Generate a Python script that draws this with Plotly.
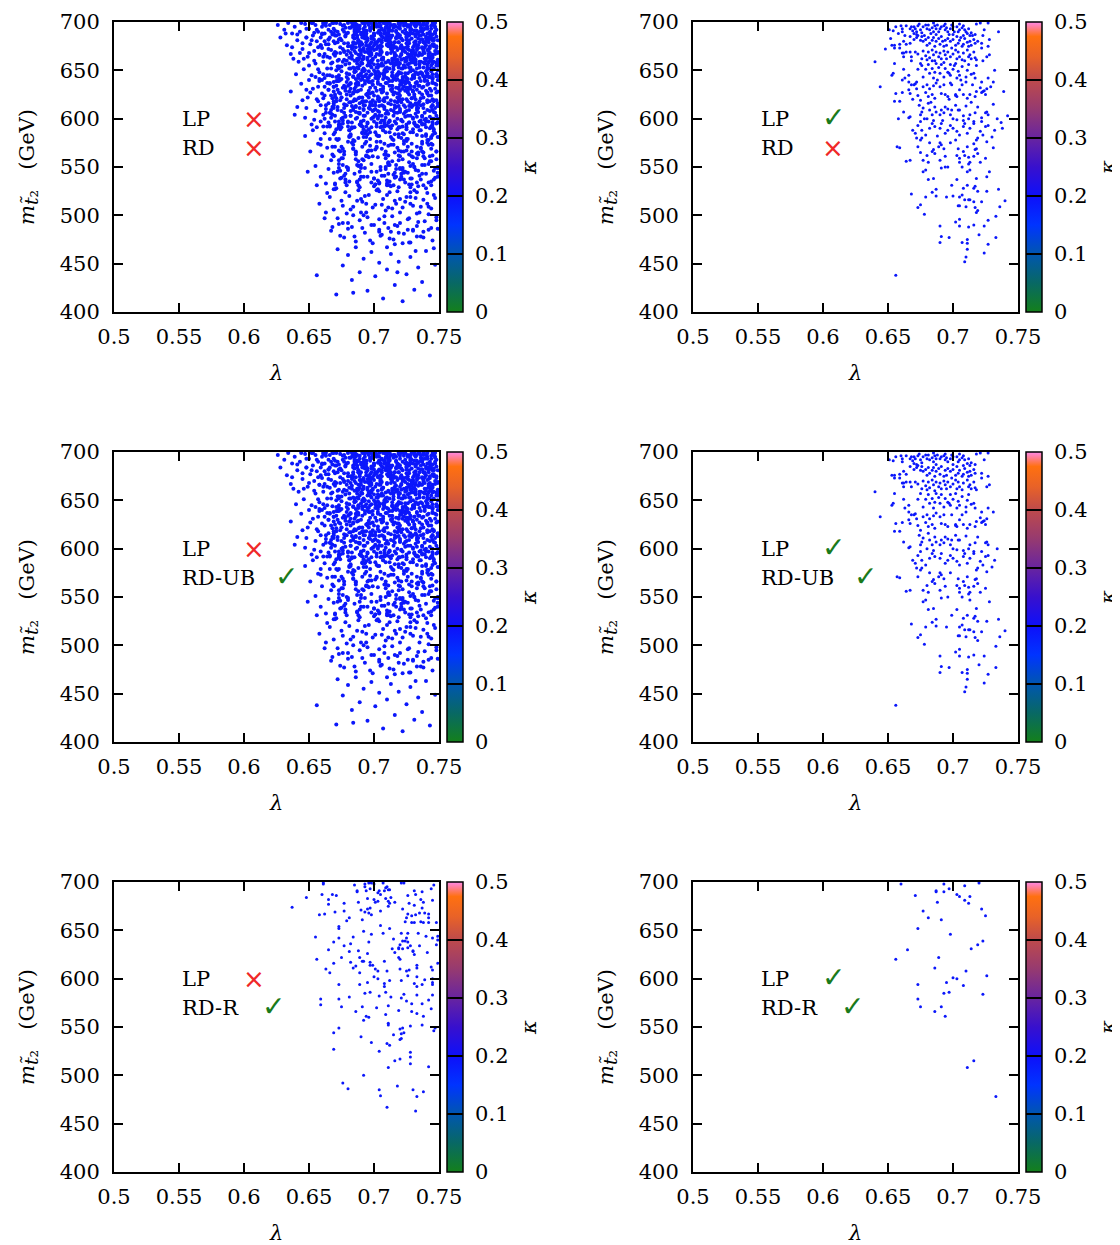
import plotly.graph_objects as go

W, H = 1112, 1237          # page body adds an 8 px margin around the figure
OFF = 8

# ---------------- axes / labels ----------------
x_range = [0.5, 0.75]
y_range = [400, 700]
x_ticks = [0.5, 0.55, 0.6, 0.65, 0.7, 0.75]
x_ticklabels = ["0.5", "0.55", "0.6", "0.65", "0.7", "0.75"]
y_ticks = [400, 450, 500, 550, 600, 650, 700]
kappa_ticks = [0, 0.1, 0.2, 0.3, 0.4, 0.5]
kappa_ticklabels = ["0", "0.1", "0.2", "0.3", "0.4", "0.5"]
kappa_typical = 0.19

panel_lp_ok = [False, True, False, True, False, True]
panel_rd_name = ["RD", "RD", "RD-UB", "RD-UB", "RD-R", "RD-R"]
panel_rd_ok = [False, False, True, True, True, True]

# ---------------- data (lambda, m_stop2) ----------------
# bottom-right panel (LP ok, RD-R ok)
pts6 = [(0.660,698),(0.693,698),(0.709,696),(0.720,699),(0.687,691),(0.687,690),(0.697,693),(0.693,690),
        (0.671,686),(0.703,687),(0.705,685),(0.713,685),(0.709,681),(0.712,678),(0.688,679),(0.677,670),
        (0.722,672),(0.725,665),(0.681,663),(0.691,661),(0.673,652),(0.698,646),(0.723,639),(0.719,635),
        (0.714,631),(0.665,630),(0.656,620),(0.689,622),(0.686,611),(0.710,608),(0.726,603),(0.700,601),
        (0.703,600),(0.695,596),(0.673,594),(0.708,593),(0.693,585),(0.697,586),(0.723,584),(0.673,579),
        (0.675,571),(0.691,571),(0.686,566),(0.694,561),(0.716,515),(0.711,508),(0.733,478)]

# bottom-left panel (LP fail, RD-R ok)
pts5 = [(0.661,698),(0.661,699),(0.685,697),(0.693,698),(0.696,699),(0.698,699),(0.700,698),(0.707,699),
        (0.710,695),(0.711,692),(0.712,692),(0.721,699),(0.723,699),(0.746,697),(0.744,693),
        (0.687,691),(0.687,690),(0.693,695),(0.694,691),(0.697,693),(0.703,689),(0.704,691),(0.705,687),
        (0.708,691),(0.709,694),(0.713,684),(0.648,684),(0.660,687),(0.668,687),(0.671,686),(0.726,686),
        (0.731,691),(0.732,687),(0.737,690),(0.665,682),
        (0.665,677),(0.677,678),(0.688,679),(0.695,683),(0.700,682),(0.701,679),(0.703,680),(0.709,683),
        (0.711,680),(0.712,678),(0.716,679),(0.727,678),(0.736,682),(0.738,679),(0.745,681),(0.637,674),
        (0.695,672),(0.697,673),(0.711,675),(0.731,676),(0.722,672),(0.737,673),
        (0.670,669),(0.677,670),(0.690,671),(0.693,669),(0.696,668),(0.698,666),(0.705,670),(0.658,666),
        (0.662,667),(0.681,663),(0.679,660),(0.691,661),(0.726,667),(0.729,665),(0.732,666),(0.735,668),
        (0.739,668),(0.742,663),(0.742,667),(0.724,659),(0.729,658),(0.731,658),(0.736,659),(0.738,658),
        (0.742,658),(0.748,658),(0.725,663),
        (0.673,654),(0.673,652),(0.705,655),(0.712,652),(0.692,649),(0.721,647),(0.726,647),(0.734,647),
        (0.698,646),(0.707,647),(0.740,644),(0.745,642),(0.749,644),(0.749,640),(0.655,643),(0.673,642),
        (0.684,643),(0.696,638),(0.715,641),(0.720,635),(0.725,642),(0.724,639),(0.722,639),(0.726,638),
        (0.728,634),(0.735,634),(0.748,635),(0.669,638),
        (0.677,634),(0.682,636),(0.665,630),(0.681,628),(0.688,629),(0.695,626),(0.719,632),(0.714,631),
        (0.719,631),(0.716,627),(0.722,631),(0.726,632),(0.730,629),(0.730,628),(0.731,625),(0.741,627),
        (0.675,622),(0.689,622),(0.691,618),(0.692,618),(0.697,617),(0.708,618),(0.719,622),(0.720,620),
        (0.656,620),(0.669,616),(0.682,617),(0.686,613),
        (0.663,610),(0.666,606),(0.689,606),(0.697,614),(0.699,614),(0.701,610),(0.703,608),(0.710,608),
        (0.720,610),(0.725,608),(0.727,609),(0.733,614),(0.733,611),(0.726,603),(0.733,602),(0.744,612),
        (0.745,609),(0.749,616),(0.684,611),(0.700,602),(0.703,600),(0.712,598),(0.721,598),(0.739,599),
        (0.745,600),
        (0.673,594),(0.689,594),(0.695,596),(0.708,595),(0.708,592),(0.731,595),(0.733,592),(0.737,594),
        (0.745,596),(0.745,594),(0.693,585),(0.697,586),(0.704,582),(0.709,586),(0.723,584),(0.733,583),
        (0.745,583),(0.681,581),
        (0.659,579),(0.659,573),(0.673,579),(0.675,571),(0.713,581),(0.721,580),(0.725,577),(0.729,574),
        (0.737,574),(0.742,578),(0.691,571),(0.702,570),(0.711,572),(0.686,566),(0.709,563),(0.719,567),
        (0.729,566),(0.733,564),(0.744,569),(0.694,561),(0.696,560),(0.692,557),(0.711,554),(0.711,552),
        (0.728,551),(0.738,561),(0.737,552),
        (0.720,548),(0.722,549),(0.673,549),(0.669,544),(0.690,540),(0.715,542),(0.721,543),(0.723,544),
        (0.720,537),(0.721,538),(0.746,546),(0.747,549),(0.698,534),(0.710,533),(0.712,531),(0.669,527),
        (0.704,525),(0.728,524),(0.728,519),(0.716,515),(0.720,517),(0.728,512),(0.711,508),(0.742,509),
        (0.692,500),(0.676,492),(0.680,486),(0.704,485),(0.718,489),(0.730,485),(0.738,483),(0.705,479),
        (0.733,478),(0.710,467),(0.732,463)]

# middle-right panel (LP ok, RD-UB ok)
pts4 = [(0.651,692),(0.654,691),(0.656,695),(0.660,696),(0.661,693),(0.661,690),(0.664,696),(0.667,693),
        (0.668,695),(0.670,695),(0.669,691),(0.671,693),(0.673,696),(0.674,698),(0.675,692),(0.676,689),
        (0.677,695),(0.679,697),(0.680,693),(0.681,697),(0.682,692),(0.684,694),(0.685,690),(0.686,696),
        (0.687,693),(0.688,697),(0.690,693),(0.691,695),(0.693,696),(0.694,692),(0.695,694),(0.696,690),
        (0.698,693),(0.699,697),(0.700,695),(0.703,695),(0.704,690),(0.705,692),(0.707,694),(0.708,696),
        (0.709,692),(0.711,688),(0.712,693),(0.714,689),(0.718,698),(0.721,699),(0.724,692),(0.727,699),
        (0.685,699),(0.694,698),(0.705,698),(0.670,688),(0.672,687),(0.687,687),(0.700,687),(0.708,686),
        (0.713,686),(0.717,687),
        (0.653,676),(0.655,676),(0.655,673),(0.659,677),(0.662,680),(0.664,677),(0.667,685),(0.670,682),
        (0.672,684),(0.673,686),(0.675,681),(0.676,685),(0.677,680),(0.679,682),(0.680,676),(0.681,684),
        (0.682,678),(0.684,681),(0.685,684),(0.686,675),(0.687,680),(0.689,683),(0.690,677),(0.691,685),
        (0.693,675),(0.694,681),(0.695,676),(0.696,683),(0.698,680),(0.699,673),(0.700,682),(0.702,676),
        (0.703,685),(0.704,678),(0.705,681),(0.707,675),(0.708,677),(0.709,683),(0.711,679),(0.712,675),
        (0.713,680),(0.714,676),(0.716,682),(0.717,678),(0.722,678),(0.727,675),(0.722,673),(0.659,673),
        (0.661,668),(0.662,668),(0.664,669),(0.662,664),(0.667,669),(0.668,664),(0.671,669),(0.673,667),
        (0.676,662),(0.677,670),(0.679,665),(0.680,661),(0.681,669),(0.682,663),(0.684,671),(0.685,666),
        (0.686,660),(0.687,669),(0.689,664),(0.690,668),(0.691,662),(0.693,670),(0.694,666),(0.695,662),
        (0.696,669),(0.698,664),(0.700,667),(0.702,671),(0.703,662),(0.704,669),(0.705,664),(0.707,661),
        (0.708,668),(0.711,671),(0.712,664),(0.713,666),(0.714,662),(0.716,669),(0.717,663),(0.718,661),
        (0.726,664),(0.728,666),(0.640,659),(0.655,657),
        (0.654,647),(0.653,645),(0.662,651),(0.663,642),(0.666,645),(0.673,651),(0.675,657),(0.677,643),
        (0.679,651),(0.681,656),(0.682,647),(0.684,652),(0.685,642),(0.686,648),(0.687,657),(0.689,653),
        (0.690,647),(0.691,656),(0.693,643),(0.694,652),(0.696,648),(0.697,647),(0.698,645),(0.698,656),
        (0.700,651),(0.702,657),(0.703,642),(0.704,649),(0.705,645),(0.707,654),(0.710,643),(0.711,650),
        (0.712,656),(0.714,646),(0.716,647),(0.717,642),(0.722,638),(0.727,642),(0.731,638),(0.644,633),
        (0.666,638),(0.668,635),
        (0.656,626),(0.655,618),(0.659,618),(0.661,627),(0.666,630),(0.667,626),(0.670,635),(0.671,636),
        (0.672,631),(0.673,624),(0.675,619),(0.677,633),(0.679,627),(0.680,635),(0.681,623),(0.682,631),
        (0.684,625),(0.685,634),(0.686,621),(0.687,637),(0.690,633),(0.691,626),(0.693,635),(0.694,625),
        (0.696,623),(0.699,635),(0.702,625),(0.702,624),(0.703,623),(0.705,630),(0.707,635),(0.708,625),
        (0.710,638),(0.711,621),(0.713,625),(0.717,623),(0.718,628),(0.721,632),(0.722,627),(0.723,628),
        (0.725,625),(0.726,631),(0.724,629),
        (0.666,601),(0.667,602),(0.674,614),(0.675,604),(0.676,607),(0.677,611),(0.680,600),(0.681,616),
        (0.682,609),(0.684,604),(0.685,598),(0.686,612),(0.687,607),(0.690,604),(0.691,609),(0.693,606),
        (0.694,612),(0.696,610),(0.698,604),(0.699,609),(0.700,600),(0.702,614),(0.703,599),(0.704,609),
        (0.705,609),(0.708,598),(0.710,613),(0.712,600),(0.713,604),(0.716,597),(0.717,606),(0.719,612),
        (0.722,597),(0.725,606),(0.727,604),(0.726,607),(0.734,600),(0.662,607),
        (0.669,588),(0.671,585),(0.673,593),(0.675,597),(0.676,588),(0.679,583),(0.682,590),(0.684,595),
        (0.686,592),(0.690,590),(0.691,595),(0.694,585),(0.696,588),(0.698,593),(0.700,590),(0.703,587),
        (0.705,583),(0.708,592),(0.709,595),(0.711,585),(0.713,590),(0.716,595),(0.718,578),(0.719,580),
        (0.721,587),(0.723,583),(0.725,592),(0.727,593),(0.730,581),(0.732,588),(0.726,576),(0.672,580),
        (0.676,580),
        (0.657,571),(0.659,570),(0.664,556),(0.667,557),(0.673,571),(0.675,578),(0.677,557),(0.680,562),
        (0.682,575),(0.684,566),(0.685,568),(0.686,564),(0.689,571),(0.690,575),(0.691,573),(0.693,569),
        (0.694,561),(0.698,575),(0.703,562),(0.704,569),(0.705,559),(0.708,566),(0.709,562),(0.711,571),
        (0.712,560),(0.713,555),(0.716,561),(0.717,568),(0.718,569),(0.719,564),(0.721,555),(0.725,559),
        (0.677,545),(0.679,547),(0.681,555),(0.681,537),(0.685,538),(0.687,527),(0.690,557),(0.691,549),
        (0.696,550),(0.699,531),(0.703,537),(0.705,555),(0.707,550),(0.708,528),(0.711,531),(0.712,553),
        (0.713,547),(0.716,528),(0.717,530),(0.718,538),(0.719,525),(0.726,525),(0.728,545),(0.735,527),
        (0.668,522),(0.675,511),(0.673,508),(0.678,501),(0.679,519),(0.684,524),(0.687,520),(0.695,519),
        (0.704,510),(0.705,519),(0.705,510),(0.707,521),(0.709,516),(0.710,509),(0.712,516),(0.713,516),
        (0.716,514),(0.717,508),(0.719,505),(0.722,514),(0.736,509),(0.740,515),(0.733,499),
        (0.690,489),(0.691,478),(0.690,472),(0.697,477),(0.702,493),(0.705,496),(0.705,489),(0.712,488),
        (0.711,475),(0.711,471),(0.707,472),(0.711,465),(0.710,457),(0.709,452),(0.716,490),(0.720,480),
        (0.724,489),(0.724,461),(0.727,470),(0.733,477),(0.656,438)]

# extra points of the top-right panel (LP ok, RD fail) beyond pts4
pts2x = [(0.652,683),(0.648,672),(0.658,688),(0.663,686),(0.667,678),(0.672,690),(0.678,686),(0.683,688),
         (0.689,690),(0.692,680),(0.697,687),(0.701,690),(0.706,684),(0.710,690),(0.715,686),(0.719,680),
         (0.723,686),(0.728,682),(0.735,690),(0.668,660),(0.676,655),(0.684,660),(0.693,658),(0.701,655),
         (0.709,660),(0.718,655),(0.723,660),(0.732,650),(0.661,640),(0.672,638),(0.688,640),(0.698,637),
         (0.706,640),(0.715,635),(0.729,633),(0.739,628),(0.669,620),(0.683,617),(0.697,620),(0.714,617),
         (0.731,615),(0.678,600),(0.692,598),(0.708,603),(0.722,601),(0.737,596),(0.688,582),(0.702,578),
         (0.716,574),(0.731,570),(0.694,550),(0.711,545),(0.726,540),(0.700,520),(0.718,503),(0.727,495),
         (0.738,590),(0.742,603),(0.658,600),(0.675,565)]

# dense panels (LP fail): points beyond pts5, by region
fringe_top = [(0.626,697),(0.631,692),(0.628,684),(0.634,699),(0.637,688),(0.633,676),(0.639,695),(0.641,681),
              (0.636,667),(0.643,690),(0.645,672),(0.642,659),(0.647,698),(0.648,684),(0.646,651),(0.650,693),
              (0.651,677),(0.649,664),(0.653,686),(0.652,645),(0.654,670),(0.655,697),(0.656,680),(0.655,657),
              (0.657,690),(0.658,666),(0.658,648),(0.659,684),(0.660,695),(0.660,673),(0.661,659),(0.662,688),
              (0.662,642),(0.663,677),(0.663,699),(0.664,664),(0.664,652),(0.665,692),(0.665,682),(0.640,646),
              (0.638,662),(0.644,699),(0.652,699),(0.657,674),(0.661,646),
              (0.641,687),(0.645,678),(0.648,693),(0.650,668),(0.652,681),(0.654,660),(0.656,692),(0.657,651),
              (0.659,676),(0.660,688),(0.661,664),(0.663,696),(0.664,645),(0.665,672),(0.666,684),(0.667,657),
              (0.668,699),(0.669,667),(0.670,678),(0.671,643),(0.672,690),(0.673,661),(0.674,683),(0.675,649),
              (0.676,696),(0.677,669),(0.678,656),(0.679,688),(0.680,675),(0.681,646),(0.682,694),(0.683,665),
              (0.684,653),(0.662,680),(0.658,641),(0.653,699),(0.667,690),(0.674,640),(0.680,699),(0.646,662)]
inner_top = [(0.666,697),(0.668,658),(0.667,671),(0.670,686),(0.668,644),(0.669,693),(0.672,679),(0.670,665),
             (0.671,650),(0.671,699),(0.673,687),(0.672,660),(0.674,674),(0.673,645),(0.676,692),(0.674,668),
             (0.675,681),(0.675,654),(0.677,697),(0.676,672),(0.678,686),(0.677,661),(0.679,647),(0.678,694),
             (0.680,678),(0.679,666),(0.681,652),(0.680,689),(0.683,699),(0.680,641),(0.682,675),(0.681,657),
             (0.684,684),(0.682,668),(0.683,695),(0.685,649),(0.684,679),(0.683,662),(0.685,690),(0.684,644),
             (0.666,663),(0.669,680),(0.670,691),(0.672,654),(0.674,698),(0.676,659),(0.678,685),(0.679,643),
             (0.681,694),(0.683,672),(0.667,652),(0.669,699),(0.671,668),(0.673,682),(0.675,641),(0.677,690),
             (0.680,670),(0.682,652),(0.684,698),(0.685,687)]
core_lam = [0.686,0.689,0.685,0.690,0.687,0.691,0.688,0.686,0.690,0.685,0.689,0.687,0.691,0.688,0.685,0.690,0.686,0.689,0.687,0.691,
            0.693,0.696,0.692,0.697,0.694,0.698,0.695,0.692,0.697,0.693,0.696,0.694,0.698,0.692,0.695,0.697,0.693,0.696,0.694,0.692,
            0.699,0.702,0.700,0.704,0.701,0.698,0.703,0.700,0.702,0.699,0.704,0.701,0.703,0.698,0.702,0.700,0.704,0.699,0.701,0.703,
            0.705,0.708,0.706,0.710,0.707,0.704,0.709,0.706,0.711,0.705,0.708,0.710,0.707,0.704,0.709,0.706,0.711,0.705,0.708,0.707,
            0.712,0.715,0.713,0.717,0.714,0.711,0.716,0.713,0.715,0.712,0.717,0.714,0.716,0.711,0.713,0.715,0.712,0.716,0.714,0.717,
            0.718,0.721,0.719,0.723,0.720,0.717,0.722,0.719,0.724,0.718,0.721,0.723,0.720,0.717,0.722,0.719,0.724,0.718,0.721,0.720,
            0.725,0.728,0.726,0.730,0.727,0.724,0.729,0.726,0.730,0.725,0.728,0.727,0.729,0.724,0.726,0.730,0.725,0.728,0.727,0.729,
            0.731,0.734,0.732,0.736,0.733,0.730,0.735,0.732,0.737,0.731,0.734,0.736,0.733,0.730,0.735,0.732,0.737,0.731,0.734,0.733,
            0.738,0.741,0.739,0.743,0.740,0.737,0.742,0.739,0.743,0.738,0.741,0.740,0.742,0.737,0.739,0.743,0.738,0.741,0.740,0.742,
            0.744,0.747,0.745,0.749,0.746,0.743,0.748,0.745,0.749,0.744,0.747,0.746,0.748,0.743,0.745,0.749,0.744,0.747,0.746,0.748]
core_m = [698,671,652,689,660,644,681,695,666,648,677,686,657,642,692,669,674,663,684,650,
          684,697,662,645,691,673,655,687,668,699,649,679,660,693,642,670,688,657,676,652,
          694,667,650,681,699,658,675,688,644,662,691,678,653,685,697,671,646,683,664,656,
          672,688,655,698,641,666,681,693,659,676,647,686,663,695,652,679,690,668,643,684,
          691,657,677,645,686,699,664,672,651,682,695,660,641,688,668,654,679,697,648,674,
          645,683,698,662,673,690,652,679,688,641,667,696,657,684,670,648,692,661,676,686,
          678,694,656,667,686,643,699,672,650,689,661,681,692,653,675,645,684,697,664,670,
          663,689,680,648,697,671,656,685,693,642,676,666,652,688,699,659,682,645,673,691,
          697,651,674,685,662,690,644,679,668,699,656,683,672,647,693,660,687,653,676,665,
          686,670,698,655,677,643,692,664,681,649,695,659,673,688,646,668,683,699,652,675]
core2_lam = [0.684,0.686,0.688,0.685,0.687,0.688,0.684,0.686,0.687,0.685,0.686,0.688,0.684,0.687,0.685,0.687,0.685,0.688,0.684,0.686,
             0.688,0.690,0.692,0.689,0.691,0.692,0.688,0.690,0.691,0.689,0.690,0.692,0.688,0.691,0.689,0.691,0.689,0.692,0.688,0.690,
             0.693,0.695,0.697,0.694,0.696,0.697,0.693,0.695,0.696,0.694,0.695,0.697,0.693,0.696,0.694,0.696,0.694,0.697,0.693,0.695,
             0.697,0.699,0.701,0.698,0.700,0.701,0.697,0.699,0.700,0.698,0.699,0.701,0.697,0.700,0.698,0.700,0.698,0.701,0.697,0.699,
             0.702,0.704,0.706,0.703,0.705,0.706,0.702,0.704,0.705,0.703,0.704,0.706,0.702,0.705,0.703,0.705,0.703,0.706,0.702,0.704,
             0.706,0.708,0.710,0.707,0.709,0.710,0.706,0.708,0.709,0.707,0.708,0.710,0.706,0.709,0.707,0.709,0.707,0.710,0.706,0.708,
             0.710,0.712,0.714,0.711,0.713,0.714,0.710,0.712,0.713,0.711,0.712,0.714,0.710,0.713,0.711,0.713,0.711,0.714,0.710,0.712,
             0.715,0.717,0.719,0.716,0.718,0.719,0.715,0.717,0.718,0.716,0.717,0.719,0.715,0.718,0.716,0.718,0.716,0.719,0.715,0.717,
             0.719,0.721,0.723,0.720,0.722,0.723,0.719,0.721,0.722,0.720,0.721,0.723,0.719,0.722,0.720,0.722,0.720,0.723,0.719,0.721,
             0.724,0.726,0.728,0.725,0.727,0.728,0.724,0.726,0.727,0.725,0.726,0.728,0.724,0.727,0.725,0.727,0.725,0.728,0.724,0.726,
             0.728,0.730,0.732,0.729,0.731,0.732,0.728,0.730,0.731,0.729,0.730,0.732,0.728,0.731,0.729,0.731,0.729,0.732,0.728,0.730,
             0.732,0.734,0.736,0.733,0.735,0.736,0.732,0.734,0.735,0.733,0.734,0.736,0.732,0.735,0.733,0.735,0.733,0.736,0.732,0.734,
             0.737,0.739,0.741,0.738,0.740,0.741,0.737,0.739,0.740,0.738,0.739,0.741,0.737,0.740,0.738,0.740,0.738,0.741,0.737,0.739,
             0.741,0.743,0.745,0.742,0.744,0.745,0.741,0.743,0.744,0.742,0.743,0.745,0.741,0.744,0.742,0.744,0.742,0.745,0.741,0.743,
             0.745,0.747,0.749,0.746,0.748,0.749,0.745,0.747,0.748,0.746,0.747,0.749,0.745,0.748,0.746,0.748,0.746,0.749,0.745,0.747]
core2_m = [699,668,645,683,657,691,674,649,662,695,641,679,686,653,670,697,660,644,677,688,
           652,687,671,696,643,664,681,658,699,675,647,690,666,684,655,641,693,673,661,679,
           690,661,677,646,698,655,683,669,642,688,663,694,650,675,685,658,700,667,644,681,
           665,694,648,679,688,642,671,697,656,683,661,646,691,676,653,686,668,699,659,673,
           678,647,692,660,671,685,653,699,666,641,682,657,695,669,649,688,674,662,697,644,
           681,644,667,700,658,685,675,650,694,663,688,642,669,683,655,698,646,677,661,690,
           688,677,644,660,697,670,653,686,679,641,695,662,649,674,691,657,683,645,668,699,
           673,659,699,668,686,653,676,691,646,661,683,656,697,671,642,688,679,648,694,665,
           679,661,673,693,641,655,684,666,690,647,675,699,658,681,664,643,696,671,687,652,
           644,697,662,674,688,649,669,695,657,682,641,666,699,653,685,671,660,692,647,678,
           649,662,695,641,679,686,653,670,697,660,644,677,688,699,668,645,683,657,691,674,
           661,646,691,676,653,686,668,699,659,673,665,694,648,679,688,642,671,697,656,683,
           682,657,695,669,649,688,674,662,697,644,678,647,692,660,671,685,653,699,666,641,
           647,690,666,684,655,641,693,673,661,679,652,687,671,696,643,664,681,658,699,675,
           663,694,650,675,685,658,700,667,644,681,690,661,677,646,698,655,683,669,642,688]
fringe_mid = [(0.636,628),(0.641,612),(0.644,636),(0.647,601),(0.649,622),(0.652,594),(0.653,631),(0.655,608),
              (0.657,618),(0.658,639),(0.659,597),(0.660,626),(0.661,604),(0.662,633),(0.663,614),(0.664,592),
              (0.650,640),(0.645,619),(0.656,591),(0.639,604),
              (0.648,611),(0.651,627),(0.654,599),(0.657,633),(0.659,614),(0.661,592),(0.662,624),(0.663,606),
              (0.664,637),(0.660,640)]
mid_lam = [0.666,0.669,0.667,0.670,0.665,0.668,0.671,0.666,0.669,0.667,
           0.673,0.676,0.672,0.677,0.674,0.671,0.675,0.678,0.672,0.676,
           0.679,0.682,0.680,0.684,0.681,0.678,0.683,0.680,0.682,0.679,
           0.685,0.688,0.686,0.690,0.687,0.684,0.689,0.686,0.691,0.688,
           0.692,0.695,0.693,0.697,0.694,0.691,0.696,0.693,0.695,0.692,
           0.698,0.701,0.699,0.703,0.700,0.697,0.702,0.699,0.704,0.701,
           0.705,0.708,0.706,0.710,0.707,0.704,0.709,0.706,0.708,0.705,
           0.711,0.714,0.712,0.716,0.713,0.710,0.715,0.712,0.717,0.714,
           0.718,0.721,0.719,0.723,0.720,0.717,0.722,0.719,0.721,0.718,
           0.724,0.727,0.725,0.729,0.726,0.723,0.728,0.725,0.730,0.727,
           0.731,0.734,0.732,0.736,0.733,0.730,0.735,0.732,0.734,0.731,
           0.737,0.740,0.738,0.742,0.739,0.736,0.741,0.738,0.743,0.740,
           0.744,0.747,0.745,0.749,0.746,0.743,0.748,0.745,0.749,0.747]
mid_m = [636,611,624,597,630,604,618,592,633,609,
         627,601,639,615,594,621,608,632,612,598,
         620,637,596,609,628,614,591,634,603,625,
         631,606,619,593,638,626,611,600,622,635,
         598,624,636,610,592,617,629,603,639,614,
         616,632,601,623,609,638,595,627,613,604,
         635,610,592,626,619,603,637,614,598,630,
         605,628,639,597,615,622,608,634,612,593,
         626,599,613,633,607,640,620,591,637,617,
         612,637,594,621,629,605,616,632,600,625,
         633,607,620,598,638,614,627,593,611,623,
         602,629,615,636,594,621,609,633,618,597,
         624,611,637,600,619,631,595,614,628,606]
mid2_lam = [0.666,0.668,0.665,0.669,0.667,0.668,0.666,0.669,0.665,0.667,
            0.670,0.672,0.669,0.673,0.671,0.672,0.670,0.673,0.669,0.671,
            0.674,0.676,0.673,0.677,0.675,0.676,0.674,0.677,0.673,0.675,
            0.679,0.681,0.678,0.682,0.680,0.681,0.679,0.682,0.678,0.680,
            0.683,0.685,0.682,0.686,0.684,0.685,0.683,0.686,0.682,0.684,
            0.687,0.689,0.686,0.690,0.688,0.689,0.687,0.690,0.686,0.688,
            0.691,0.693,0.690,0.694,0.692,0.693,0.691,0.694,0.690,0.692,
            0.696,0.698,0.695,0.699,0.697,0.698,0.696,0.699,0.695,0.697,
            0.700,0.702,0.699,0.703,0.701,0.702,0.700,0.703,0.699,0.701,
            0.704,0.706,0.703,0.707,0.705,0.706,0.704,0.707,0.703,0.705,
            0.708,0.710,0.707,0.711,0.709,0.710,0.708,0.711,0.707,0.709,
            0.713,0.715,0.712,0.716,0.714,0.715,0.713,0.716,0.712,0.714,
            0.717,0.719,0.716,0.720,0.718,0.719,0.717,0.720,0.716,0.718,
            0.721,0.723,0.720,0.724,0.722,0.723,0.721,0.724,0.720,0.722,
            0.725,0.727,0.724,0.728,0.726,0.727,0.725,0.728,0.724,0.726,
            0.730,0.732,0.729,0.733,0.731,0.732,0.730,0.733,0.729,0.731,
            0.734,0.736,0.733,0.737,0.735,0.736,0.734,0.737,0.733,0.735,
            0.738,0.740,0.737,0.741,0.739,0.740,0.738,0.741,0.737,0.739,
            0.742,0.744,0.741,0.745,0.743,0.744,0.742,0.745,0.741,0.743,
            0.746,0.748,0.745,0.749,0.747,0.748,0.746,0.749,0.745,0.747]
mid2_m = [637,612,596,628,605,621,593,633,616,601,
          603,630,618,592,639,609,625,597,614,634,
          626,595,639,611,600,632,619,606,591,622,
          614,635,602,624,592,617,638,608,629,597,
          596,620,631,607,627,591,613,636,603,618,
          601,616,633,593,621,605,628,596,612,637,
          634,614,597,625,609,639,592,618,630,603,
          622,591,606,619,632,600,611,639,595,626,
          597,629,608,638,617,592,624,602,635,614,
          618,603,636,613,591,627,607,631,620,596,
          621,593,633,616,601,637,612,596,628,605,
          609,625,597,614,634,603,630,618,592,639,
          632,619,606,591,622,626,595,639,611,600,
          617,638,608,629,597,614,635,602,624,592,
          591,613,636,603,618,596,620,631,607,627,
          628,605,621,593,633,616,601,637,612,596,
          592,639,609,625,597,614,634,603,630,618,
          611,600,632,619,606,591,622,626,595,639,
          624,592,617,638,608,629,597,614,635,602,
          607,627,591,613,636,603,618,596,620,631]
fringe_low = [(0.647,582),(0.651,566),(0.653,588),(0.655,551),(0.657,574),(0.659,540),(0.660,561),(0.662,585),
              (0.663,533),(0.664,570),(0.665,548),(0.666,579),(0.667,557),(0.649,545),(0.656,531)]
low_lam = [0.669,0.673,0.670,0.675,0.671,0.668,0.674,0.672,0.676,0.670,
           0.677,0.681,0.678,0.683,0.679,0.676,0.682,0.680,0.684,0.678,
           0.685,0.689,0.686,0.691,0.687,0.684,0.690,0.688,0.692,0.686,
           0.693,0.697,0.694,0.700,0.695,0.692,0.698,0.696,0.701,0.694,
           0.702,0.706,0.703,0.708,0.704,0.701,0.707,0.705,0.709,0.703,
           0.710,0.714,0.711,0.716,0.712,0.709,0.715,0.713,0.717,0.711,
           0.718,0.722,0.719,0.724,0.720,0.717,0.723,0.721,0.725,0.719,
           0.726,0.730,0.727,0.733,0.728,0.725,0.731,0.729,0.734,0.727,
           0.735,0.739,0.736,0.741,0.737,0.734,0.740,0.738,0.742,0.736,
           0.743,0.747,0.744,0.749,0.745,0.742,0.748,0.746,0.749,0.744]
low_m = [584,557,571,539,589,563,546,578,552,533,
         566,588,543,575,531,559,582,549,569,537,
         577,545,563,586,534,569,552,580,540,558,
         549,572,587,538,561,581,545,567,532,576,
         583,541,560,574,533,568,588,550,563,536,
         536,579,555,544,586,566,531,573,548,562,
         570,547,584,534,561,552,577,540,589,557,
         544,586,563,571,538,579,550,532,565,555,
         588,559,537,575,566,546,582,531,553,570,
         561,539,580,550,573,534,566,587,544,556]
low2_lam = [0.670,0.673,0.668,0.674,0.671,0.669,0.672,0.674,0.670,0.673,
            0.677,0.680,0.675,0.681,0.678,0.676,0.679,0.681,0.677,0.680,
            0.684,0.687,0.682,0.688,0.685,0.683,0.686,0.688,0.684,0.687,
            0.691,0.694,0.689,0.695,0.692,0.690,0.693,0.695,0.691,0.694,
            0.698,0.701,0.696,0.702,0.699,0.697,0.700,0.702,0.698,0.701,
            0.705,0.708,0.703,0.709,0.706,0.704,0.707,0.709,0.705,0.708,
            0.712,0.715,0.710,0.716,0.713,0.711,0.714,0.716,0.712,0.715,
            0.719,0.722,0.717,0.723,0.720,0.718,0.721,0.723,0.719,0.722,
            0.726,0.729,0.724,0.730,0.727,0.725,0.728,0.730,0.726,0.729,
            0.733,0.736,0.731,0.737,0.734,0.732,0.735,0.737,0.733,0.736,
            0.740,0.743,0.738,0.744,0.741,0.739,0.742,0.744,0.740,0.743,
            0.746,0.749,0.744,0.749,0.747,0.745,0.748,0.749,0.746,0.748]
low2_m = [586,553,571,538,579,561,545,589,532,567,
          541,576,559,588,534,569,550,582,563,547,
          573,535,584,556,543,590,565,531,578,552,
          558,581,537,566,589,549,574,540,585,562,
          567,532,589,545,561,579,538,571,553,586,
          547,563,582,550,569,534,588,559,576,541,
          552,578,531,565,590,543,556,584,535,573,
          562,585,540,574,549,589,566,537,581,558,
          579,561,545,589,532,567,586,553,571,538,
          534,569,550,582,563,547,541,576,559,588,
          543,590,565,531,578,552,573,535,584,556,
          589,549,574,540,585,562,558,581,537,566]
tail_upper = [(0.658,512),(0.662,497),(0.664,523),(0.667,484),(0.669,506),(0.671,528),(0.673,491),(0.675,515),
              (0.677,477),(0.679,502),(0.681,520),(0.683,488),(0.684,509),(0.686,473),(0.688,526),(0.689,495),
              (0.691,514),(0.693,482),(0.694,503),(0.696,521),(0.698,490),(0.699,471),(0.701,511),(0.703,527),
              (0.704,496),(0.706,480),(0.707,517),(0.709,505),(0.711,487),(0.712,524),(0.714,499),(0.715,475),
              (0.717,512),(0.719,529),(0.720,492),(0.722,508),(0.723,481),(0.725,519),(0.727,497),(0.728,472),
              (0.730,510),(0.731,526),(0.733,489),(0.735,503),(0.736,478),(0.738,516),(0.739,494),(0.741,523),
              (0.742,485),(0.744,507),(0.745,474),(0.747,518),(0.748,498),(0.749,486),(0.716,470),(0.700,530),
              (0.734,530),(0.690,503),(0.726,485),(0.708,492),
              (0.663,503),(0.666,519),(0.668,488),(0.670,527),(0.672,497),(0.674,479),(0.676,510),(0.678,524),
              (0.680,492),(0.682,506),(0.685,478),(0.687,515),(0.689,529),(0.691,487),(0.693,520),(0.695,498),
              (0.697,474),(0.699,508),(0.702,526),(0.704,483),(0.706,511),(0.708,499),(0.710,521),(0.712,476),
              (0.714,507),(0.716,490),(0.718,525),(0.720,503),(0.722,471),(0.724,514),(0.726,496),(0.728,529),
              (0.730,484),(0.732,518),(0.734,493),(0.736,509),(0.738,477),(0.740,528),(0.742,501),(0.744,487),
              (0.746,521),(0.748,495),(0.700,490),(0.713,530),(0.727,472),(0.741,512),(0.684,500),(0.694,512),
              (0.719,482),(0.733,524)]
tail_lower = [(0.672,465),(0.676,448),(0.680,459),(0.683,433),(0.686,467),(0.689,441),(0.692,455),(0.695,422),
              (0.698,462),(0.701,437),(0.704,451),(0.707,414),(0.710,444),(0.713,460),(0.716,428),(0.719,452),
              (0.722,411),(0.725,439),(0.728,457),(0.731,423),(0.734,446),(0.737,431),(0.740,463),(0.743,417),
              (0.747,449),(0.656,438),(0.671,418),(0.684,420)]
# additional points present only in the top-left panel (LP fail, RD fail)
pts1x = [(0.687,694),(0.691,677),(0.694,688),(0.698,659),(0.702,672),(0.705,696),(0.709,650),(0.712,683),
         (0.716,666),(0.719,694),(0.723,655),(0.726,679),(0.730,668),(0.733,699),(0.737,646),(0.740,680),
         (0.744,662),(0.747,690),(0.689,645),(0.696,668),(0.700,686),(0.707,661),(0.714,691),(0.721,673),
         (0.728,652),(0.735,686),(0.742,670),(0.748,646),(0.686,678),(0.703,642),(0.710,676),(0.717,656),
         (0.724,697),(0.731,660),(0.738,692),(0.745,657),
         (0.670,623),(0.678,603),(0.685,628),(0.692,610),(0.699,635),(0.706,598),(0.713,619),(0.720,629),
         (0.727,596),(0.734,616),(0.741,639),(0.748,619),(0.675,591),(0.690,640),(0.704,621),(0.718,606),
         (0.732,637),(0.746,600),
         (0.674,566),(0.688,551),(0.702,576),(0.716,539),(0.730,560),(0.744,581),(0.681,535),(0.695,584),
         (0.709,548),(0.723,566),(0.737,543),(0.690,517),(0.713,483),(0.733,502),(0.746,466),(0.718,441),
         (0.632,688),(0.643,668),(0.650,655),(0.654,689),(0.659,676),(0.661,621),(0.648,630),(0.662,600),
         (0.666,645),(0.669,688)]

pts3x = (fringe_top + inner_top + list(zip(core_lam, core_m)) + list(zip(core2_lam, core2_m))
         + fringe_mid + list(zip(mid_lam, mid_m)) + list(zip(mid2_lam, mid2_m))
         + fringe_low + list(zip(low_lam, low_m)) + list(zip(low2_lam, low2_m)) + tail_upper + tail_lower)

panel_sets = [
    [pts5, pts3x, pts1x],   # LP x, RD x
    [pts4, pts2x],          # LP ok, RD x
    [pts5, pts3x],          # LP x, RD-UB ok
    [pts4],                 # LP ok, RD-UB ok
    [pts5],                 # LP x, RD-R ok
    [pts6],                 # LP ok, RD-R ok
]

# ---------------- styling ----------------
kappa_scale = [
    [0.00, "rgb(20,128,28)"],
    [0.10, "rgb(8,104,100)"],
    [0.20, "rgb(0,86,176)"],
    [0.30, "rgb(0,52,255)"],
    [0.40, "rgb(14,16,250)"],
    [0.50, "rgb(56,16,205)"],
    [0.60, "rgb(104,36,160)"],
    [0.70, "rgb(150,58,112)"],
    [0.80, "rgb(190,74,76)"],
    [0.88, "rgb(232,98,40)"],
    [0.95, "rgb(255,112,16)"],
    [1.00, "rgb(255,136,232)"],
]
FONT = "DejaVu Serif"
FS = 21
col_x0 = [114 - OFF, 693 - OFF]
row_y0 = [22 - OFF, 452 - OFF, 882 - OFF]
PW, PH = 325, 290
mark_x = {"LP": 0.608, "RD": 0.608, "RD-UB": 0.633, "RD-R": 0.623}
marker_size = [4, 3, 4, 3, 3, 3]

fig = go.Figure()
annotations = []
for i in range(6):
    r, c = divmod(i, 2)
    x0, y0 = col_x0[c], row_y0[r]
    sfx = "" if i == 0 else str(i + 1)
    lam, mass = [], []
    for s in panel_sets[i]:
        for l, m in s:
            lam.append(l)
            mass.append(m)
    fig.add_trace(go.Scatter(
        x=lam, y=mass, mode="markers", xaxis="x" + sfx, yaxis="y" + sfx,
        showlegend=False, hoverinfo="skip",
        marker=dict(size=marker_size[i], line=dict(width=0), color=[kappa_typical] * len(lam),
                    colorscale=kappa_scale, cmin=0, cmax=0.5, showscale=True,
                    colorbar=dict(x=(x0 + PW + 8) / W, xanchor="left", y=1 - y0 / H, yanchor="top",
                                  len=PH / H, lenmode="fraction", thickness=16, thicknessmode="pixels",
                                  xpad=0, ypad=0, outlinewidth=1.5, outlinecolor="black",
                                  tickmode="array", tickvals=kappa_ticks,
                                  ticktext=["\u00a0" + t for t in kappa_ticklabels],
                                  ticks="inside", ticklen=16, tickwidth=1.5, tickcolor="black",
                                  tickfont=dict(family=FONT, size=FS, color="black")))))
    axis_common = dict(showline=True, linecolor="black", linewidth=2, mirror="ticks", ticks="inside",
                       ticklen=9, tickwidth=1.5, tickcolor="black", showgrid=False, zeroline=False,
                       tickfont=dict(family=FONT, size=FS, color="black"))
    fig.update_layout(**{
        "xaxis" + sfx: dict(domain=[x0 / W, (x0 + PW) / W], range=x_range, anchor="y" + sfx,
                            tickmode="array", tickvals=x_ticks, ticktext=x_ticklabels,
                            ticklabelstandoff=5, **axis_common),
        "yaxis" + sfx: dict(domain=[1 - (y0 + PH) / H, 1 - y0 / H], range=y_range, anchor="x" + sfx,
                            tickmode="array", tickvals=y_ticks, ticktext=[str(v) for v in y_ticks],
                            ticklabelstandoff=8, **axis_common),
    })
    tf = dict(family=FONT, size=FS, color="black")
    # axis titles
    annotations.append(dict(x=(x0 - 86) / W, y=1 - (y0 + 145) / H, xref="paper", yref="paper",
                            text="<i>m</i><sub><span style='font-size:19px'><i>t\u0303</i>\u2082</span></sub>"
                                 "\u00a0\u00a0\u00a0(GeV)",
                            textangle=-90, showarrow=False, font=tf, xanchor="center", yanchor="middle"))
    annotations.append(dict(x=(x0 + 162) / W, y=1 - (y0 + 351) / H, xref="paper", yref="paper",
                            text="<i>λ</i>", showarrow=False, font=tf, xanchor="center", yanchor="middle"))
    annotations.append(dict(x=(x0 + 415) / W, y=1 - (y0 + 146) / H, xref="paper", yref="paper",
                            text="<i>κ</i>", textangle=-90, showarrow=False, font=tf,
                            xanchor="center", yanchor="middle"))
    # LP / RD key
    for label, yy, ok in [("LP", 600, panel_lp_ok[i]), (panel_rd_name[i], 570, panel_rd_ok[i])]:
        annotations.append(dict(x=0.551, y=yy, xref="x" + sfx, yref="y" + sfx, text=label,
                                showarrow=False, font=tf, xanchor="left", yanchor="middle"))
        if ok:
            annotations.append(dict(x=mark_x[label], y=yy + 1, xref="x" + sfx, yref="y" + sfx,
                                    text="\u2713", showarrow=False,
                                    font=dict(family="DejaVu Sans", size=28, color="#1a7a1a"),
                                    xanchor="center", yanchor="middle"))
        else:
            annotations.append(dict(x=mark_x[label], y=yy, xref="x" + sfx, yref="y" + sfx,
                                    text="\u00d7", showarrow=False,
                                    font=dict(family="DejaVu Sans", size=26, color="#f02828"),
                                    xanchor="center", yanchor="middle"))

fig.update_layout(width=W, height=H, margin=dict(l=0, r=0, t=0, b=0, autoexpand=False),
                  paper_bgcolor="white", plot_bgcolor="white", annotations=annotations,
                  font=dict(family=FONT, size=FS, color="black"))
fig.write_html("out.html")
